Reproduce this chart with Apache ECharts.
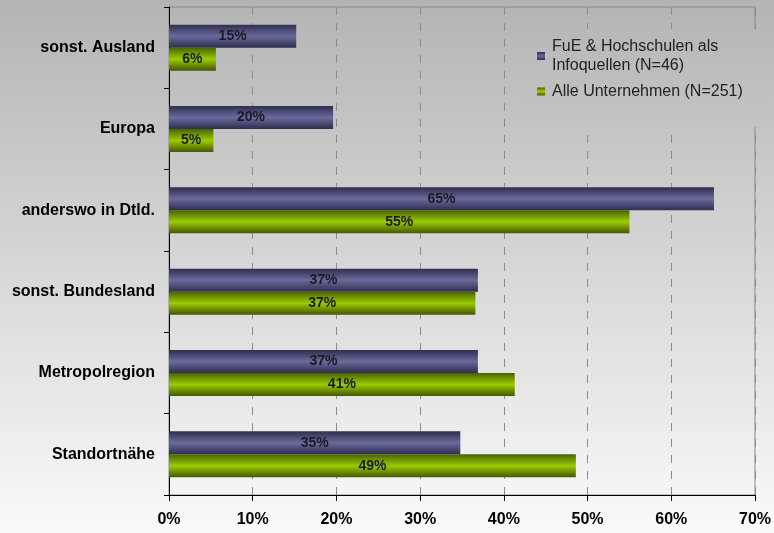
<!DOCTYPE html>
<html><head><meta charset="utf-8">
<script src="https://cdn.jsdelivr.net/npm/echarts@6/dist/echarts.min.js"></script>
<style>html,body{margin:0;padding:0;}#c{width:774px;height:533px;}</style>
</head><body><div id="c"></div>
<script>
const categories = ['sonst. Ausland','Europa','anderswo in Dtld.','sonst. Bundesland','Metropolregion','Standortnähe'];
const fueValues = [15.2, 19.6, 65.1, 36.9, 36.9, 34.8];
const alleValues = [5.6, 5.3, 55.0, 36.6, 41.3, 48.6];
const seriesNames = ['FuE & Hochschulen als\nInfoquellen (N=46)', 'Alle Unternehmen (N=251)'];
const xTicks = [0,10,20,30,40,50,60,70];

const font = 'Liberation Sans, Arial, sans-serif';
function grad(dark, light, dark2){
  return new echarts.graphic.LinearGradient(0,0,0,1,[
    {offset:0,color:dark},{offset:0.5,color:light},{offset:1,color:dark2}]);
}
const chart = echarts.init(document.getElementById('c'));
const lbl = {show:true, position:'inside', fontFamily:font, fontWeight:'bold', fontSize:14, color:'#1a1a24',
  formatter: p => Math.round(p.value) + '%'};
chart.setOption({
  animation:false,
  backgroundColor: new echarts.graphic.LinearGradient(0,0,0,1,[{offset:0,color:'#b4b4b4'},{offset:1,color:'#fafafa'}]),
  grid:{left:169, right:19, top:7, bottom:38, show:true, borderColor:'#8a8a8a', borderWidth:1},
  legend:{orient:'vertical', left:517, top:29, itemWidth:8, itemHeight:8, itemGap:7, icon:'rect',
    padding:[8,30,26,20],
    backgroundColor: new echarts.graphic.LinearGradient(0,0,0,1,[{offset:0,color:'#b8b8b8'},{offset:1,color:'#c4c4c4'}]),
    textStyle:{fontFamily:font, fontSize:16, color:'#222', lineHeight:19, padding:[0,0,0,2]},
    data:seriesNames},
  xAxis:{type:'value', min:0, max:70, interval:10,
    axisLine:{show:true, lineStyle:{color:'#000', width:1}},
    axisTick:{show:true, length:6, lineStyle:{color:'#000'}},
    axisLabel:{fontFamily:font, fontWeight:'bold', fontSize:16, color:'#000', margin:17,
      formatter: v => xTicks.includes(v) ? v + '%' : ''},
    splitLine:{show:true, lineStyle:{color:'#8c8c8c', type:[8,8], width:1}}},
  yAxis:{type:'category', data:categories, inverse:true,
    axisLine:{show:true, lineStyle:{color:'#000', width:1}},
    axisTick:{show:true, length:5, lineStyle:{color:'#000'}},
    axisLabel:{fontFamily:font, fontWeight:'bold', fontSize:16, color:'#000', margin:14}},
  series:[
    {name:seriesNames[0], type:'bar', data:fueValues, barWidth:23, barGap:'0%', barCategoryGap:'43%',
      itemStyle:{color:grad('#2e2e4e','#6a6a9c','#2e2e4e')}, label:lbl},
    {name:seriesNames[1], type:'bar', data:alleValues, barWidth:23,
      itemStyle:{color:grad('#4a6200','#9acc00','#465600')}, label:lbl}
  ]
});
</script></body></html>
